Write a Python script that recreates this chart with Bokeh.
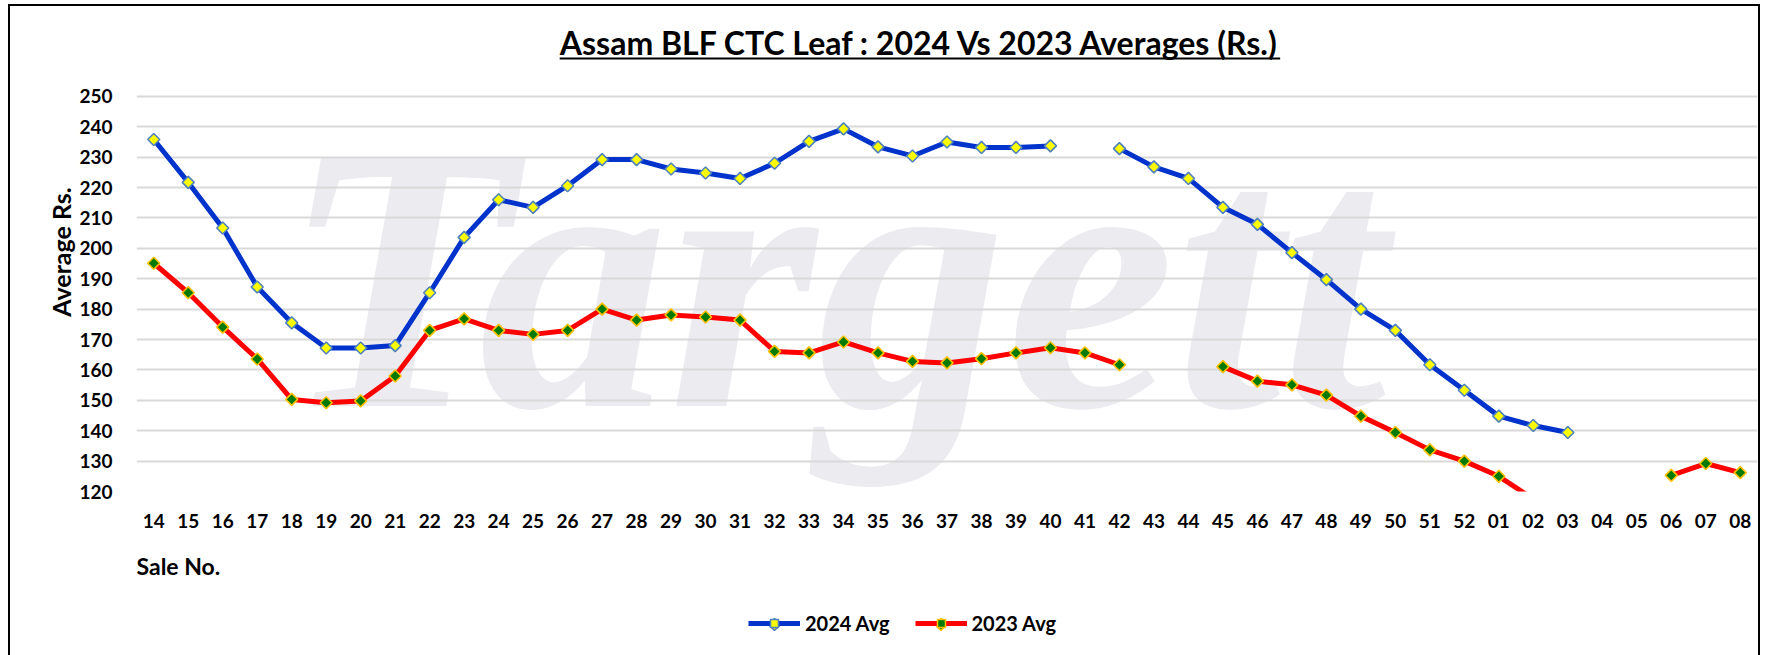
import math
from bokeh.plotting import figure
from bokeh.layouts import column
from bokeh.models import (ColumnDataSource, FactorRange, Range1d, FixedTicker,
                          Legend, LegendItem, Label, BoxAnnotation)
from bokeh.embed import file_html
from bokeh.resources import INLINE

nan = float("nan")

sale_no = ["14", "15", "16", "17", "18", "19", "20", "21", "22", "23", "24", "25",
           "26", "27", "28", "29", "30", "31", "32", "33", "34", "35", "36", "37",
           "38", "39", "40", "41", "42", "43", "44", "45", "46", "47", "48", "49",
           "50", "51", "52", "01", "02", "03", "04", "05", "06", "07", "08"]

avg_2024 = [235.8, 221.7, 206.7, 187.3, 175.5, 167.2, 167.2, 168.0, 185.4, 203.6,
            216.0, 213.5, 220.6, 229.2, 229.2, 226.1, 224.8, 223.0, 228.0, 235.2,
            239.3, 233.4, 230.4, 235.0, 233.2, 233.2, 233.7, nan, 232.8, 226.8,
            223.0, 213.5, 207.9, 198.6, 189.7, 180.0, 173.0, 161.7, 153.3, 144.8,
            141.7, 139.4, nan, nan, nan, nan, nan]

avg_2023 = [195.1, 185.4, 174.1, 163.6, 150.3, 149.2, 149.8, 158.0, 173.0, 176.8,
            173.0, 171.7, 173.0, 180.0, 176.4, 178.1, 177.4, 176.4, 166.1, 165.6,
            169.2, 165.6, 162.8, 162.3, 163.7, 165.6, 167.3, 165.6, 161.7, nan,
            nan, 161.1, 156.3, 155.1, 151.7, 144.8, 139.4, 133.7, 130.0, 125.0,
            117.5, nan, nan, nan, 125.3, 129.2, 126.2]

y_ticks = [120, 130, 140, 150, 160, 170, 180, 190, 200, 210, 220, 230, 240, 250]

series_names = ["2024 Avg", "2023 Avg"]
title_text = "Assam BLF CTC Leaf : 2024 Vs 2023 Averages (Rs.)"
x_title = "Sale No."
y_title = "Average Rs."
watermark = "Targett"

FONT = "Lato"
BLUE, RED = "#0033cc", "#ff0000"
BLUE_MK = dict(fill_color="#ffff00", line_color="#4f81bd")
RED_MK = dict(fill_color="#007a00", line_color="#ffc000")

# the y range runs a little above the top tick so that the chart title sits in the frame
Y_TOP = 277.6

W = 1748
p = figure(width=W, height=539,
           x_range=FactorRange(factors=sale_no),
           y_range=Range1d(y_ticks[0], Y_TOP),
           output_backend="svg", toolbar_location=None,
           min_border_left=126, min_border_right=1,
           min_border_top=6, min_border_bottom=54)
p.outline_line_color = None
p.background_fill_color = "white"
p.border_fill_color = "white"

# faint background logo text
p.add_layout(Label(x=4.2, y=190.4, text=watermark,
                   text_font="Liberation Serif", text_font_style="bold italic",
                   text_font_size="380px", text_color="#ebebf0",
                   text_align="left", text_baseline="alphabetic", level="image"))

src = ColumnDataSource(dict(x=sale_no, y24=avg_2024, y23=avg_2023))

p.line("x", "y23", source=src, line_color=RED, line_width=5)
p.scatter("x", "y23", source=src, marker="square", angle=math.pi / 4,
          size=8.5, line_width=1.6, **RED_MK)
p.line("x", "y24", source=src, line_color=BLUE, line_width=5)
p.scatter("x", "y24", source=src, marker="square", angle=math.pi / 4,
          size=8.5, line_width=1.6, **BLUE_MK)

for ax in (p.xaxis, p.yaxis):
    ax.axis_line_color = None
    ax.major_tick_line_color = None
    ax.minor_tick_line_color = None
    ax.major_label_text_font = FONT
    ax.major_label_text_font_style = "bold"
    ax.major_label_text_font_size = "19px"
    ax.major_label_text_color = "black"

p.xaxis.major_label_standoff = 16
p.yaxis.ticker = FixedTicker(ticks=y_ticks)
p.yaxis.major_label_standoff = 18
p.yaxis.axis_label = y_title
p.yaxis.axis_label_text_font = FONT
p.yaxis.axis_label_text_font_style = "bold"
p.yaxis.axis_label_text_font_size = "25px"
p.yaxis.axis_label_text_color = "black"
p.yaxis.axis_label_standoff = 0

p.xgrid.grid_line_color = None
p.ygrid.grid_line_color = "#d9d9d9"
p.ygrid.grid_line_width = 2

# chart title with underline (inside the frame, above the top tick)
p.add_layout(Label(x=22.72, y=267.6, text=title_text,
                   text_font=FONT, text_font_style="bold", text_font_size="32px",
                   text_color="black", text_align="center", text_baseline="alphabetic"))
p.add_layout(BoxAnnotation(left=12.27, right=33.16, top=262.8, bottom=262.15,
                           fill_color="black", fill_alpha=1, line_color=None))

# ---- lower strip: x axis title and legend (ranges equal its pixel extent;
# its frame is aligned with the main frame by the column layout)
p2 = figure(width=W, height=110, x_range=Range1d(136, 1757), y_range=Range1d(0, 110),
            output_backend="svg", toolbar_location=None,
            x_axis_location=None, y_axis_location=None,
            min_border_left=0, min_border_right=0, min_border_top=0,
            min_border_bottom=0)
p2.outline_line_color = None
p2.xgrid.grid_line_color = None
p2.ygrid.grid_line_color = None
p2.background_fill_color = "white"
p2.border_fill_color = "white"

p2.add_layout(Label(x=136, y=90, text=x_title, text_font=FONT,
                    text_font_style="bold", text_font_size="23px",
                    text_color="black", text_align="left", text_baseline="middle"))

# legend swatches styled like the two series; each sits under its own legend glyph
sw24 = ColumnDataSource(dict(x=[774], y=[31]))
sw23 = ColumnDataSource(dict(x=[940.5], y=[31]))
k24 = p2.line("x", "y", source=sw24, line_color=BLUE, line_width=5)
m24 = p2.scatter("x", "y", source=sw24, marker="square", angle=math.pi / 4,
                 size=8.5, line_width=1.6, **BLUE_MK)
k23 = p2.line("x", "y", source=sw23, line_color=RED, line_width=5)
m23 = p2.scatter("x", "y", source=sw23, marker="square", angle=math.pi / 4,
                 size=8.5, line_width=1.6, **RED_MK)

legend = Legend(items=[LegendItem(label=series_names[0], renderers=[k24, m24]),
                       LegendItem(label=series_names[1], renderers=[k23, m23])],
                orientation="horizontal", location=(612, 20),
                glyph_width=52, glyph_height=20, label_standoff=5, spacing=25,
                padding=0, margin=0, border_line_color=None,
                background_fill_alpha=0,
                label_text_font=FONT, label_text_font_style="bold",
                label_text_font_size="20px", label_text_color="black")
p2.add_layout(legend)

layout = column(p, p2, spacing=0,
                styles={"border-left": "2px solid black", "border-top": "2px solid black",
                        "border-right": "2px solid black", "margin-left": "8px",
                        "margin-top": "4px"})

open("out.html", "w").write(file_html(layout, INLINE))
